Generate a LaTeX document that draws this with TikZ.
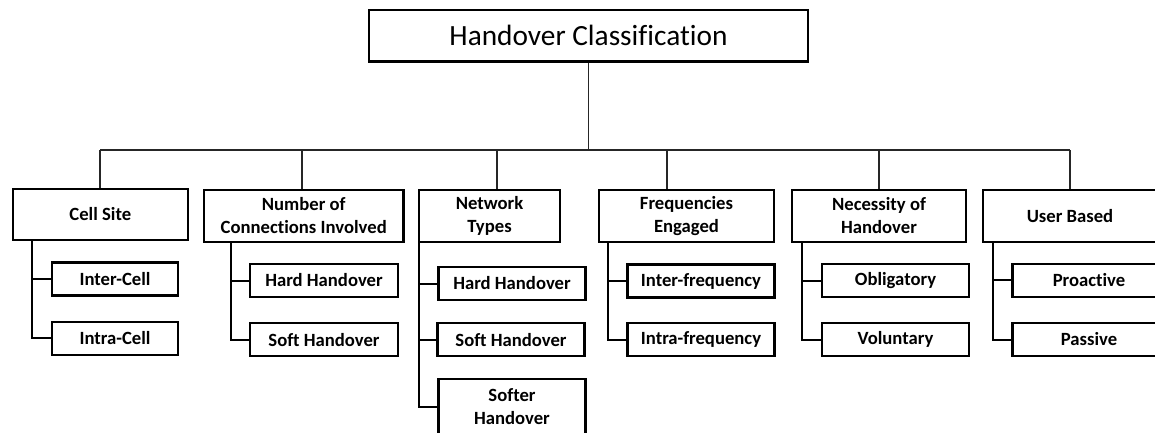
\documentclass[tikz,border=0pt]{standalone}
\usepackage{fontspec}
\setmainfont{Carlito}[Ligatures={NoCommon}]
\begin{document}
\begin{tikzpicture}[
  x=0.75pt, y=-0.75pt,
  rootbox/.style={draw=black, line width=1.65pt, inner sep=0pt, align=center,
    minimum width=439*0.75pt, minimum height=51.5*0.75pt,
    font=\fontsize{22}{26}\selectfont},
  catbox/.style={draw=black, line width=1.65pt, inner sep=0pt, align=center,
    minimum height=51.5*0.75pt,
    font=\fontsize{14}{17.25}\selectfont\bfseries},
  subbox/.style={draw=black, line width=1.65pt, inner sep=0pt, align=center,
    minimum height=33*0.75pt,
    font=\fontsize{14}{17.25}\selectfont\bfseries},
  busline/.style={draw=black!85, line width=0.9pt},
  trunk/.style={draw=black, line width=1.5pt}
]
\useasboundingbox (0,0) rectangle (1155,432);

% root
\node[rootbox] (root) at (588.5,35.75) {Handover Classification};

% categories
\node[catbox, minimum width=175*0.75pt]   (cell) at (100.3,214.5) {Cell Site};
\node[catbox, minimum width=199.5*0.75pt] (num)  at (303.7,216)   {Number of\\Connections Involved};
\node[catbox, minimum width=141*0.75pt]   (net)  at (489.5,216)   {Network\\Types};
\node[catbox, minimum width=175*0.75pt]   (freq) at (686.5,216)   {Frequencies\\Engaged};
\node[catbox, minimum width=174.5*0.75pt] (nec)  at (879,216)     {Necessity of\\Handover};
\node[catbox, minimum width=174*0.75pt]   (user) at (1070,216)    {User Based};

% bus and drops
\coordinate (stem) at (588.5,150);
\coordinate (bl) at (100,150);
\coordinate (br) at (1070,150);
\coordinate (d1) at (100,150);
\coordinate (d2) at (302,150);
\coordinate (d3) at (497,150);
\coordinate (d4) at (667,150);
\coordinate (d5) at (879,150);
\coordinate (d6) at (1070,150);
\draw[busline] (root.south) -- (stem);
\draw[busline] (bl) -- (br);
\draw[busline] (d1) -- (d1 |- cell.north);
\draw[busline] (d2) -- (d2 |- num.north);
\draw[busline] (d3) -- (d3 |- net.north);
\draw[busline] (d4) -- (d4 |- freq.north);
\draw[busline] (d5) -- (d5 |- nec.north);
\draw[busline] (d6) -- (d6 |- user.north);

% leaves
\node[subbox, minimum width=126*0.75pt] (c1) at (115,279)   {Inter-Cell};
\node[subbox, minimum width=126*0.75pt] (c2) at (115,338.2) {Intra-Cell};
\node[subbox, minimum width=148*0.75pt] (n1) at (324,280.5) {Hard Handover};
\node[subbox, minimum width=148*0.75pt] (n2) at (324,339.8) {Soft Handover};
\node[subbox, minimum width=147*0.75pt] (t1) at (512,283.5) {Hard Handover};
\node[subbox, minimum width=147*0.75pt] (t2) at (511,339.8) {Soft Handover};
\node[subbox, minimum width=147*0.75pt, minimum height=55*0.75pt] (t3) at (512,406.5) {Softer\\Handover};
\node[subbox, minimum width=147*0.75pt] (f1) at (701,281)   {Inter-frequency};
\node[subbox, minimum width=147*0.75pt] (f2) at (701,339.7) {Intra-frequency};
\node[subbox, minimum width=147*0.75pt] (o1) at (895.5,280.5) {Obligatory};
\node[subbox, minimum width=147*0.75pt] (o2) at (895.5,339.7) {Voluntary};
\node[subbox, minimum width=153*0.75pt] (u1) at (1089,280.3) {Proactive};
\node[subbox, minimum width=153*0.75pt] (u2) at (1089,339.5) {Passive};

% trunks to leaves
\coordinate (k1) at (32,241);
\coordinate (k2) at (231,242);
\coordinate (k3) at (419,242);
\coordinate (k4) at (608,242);
\coordinate (k5) at (802,242);
\coordinate (k6) at (993,242);
\draw[trunk] (k1) |- (c2.west);
\draw[trunk] (k1 |- c1.west) -- (c1.west);
\draw[trunk] (k2) |- (n2.west);
\draw[trunk] (k2 |- n1.west) -- (n1.west);
\draw[trunk] (k3) |- (t3.west);
\draw[trunk] (k3 |- t1.west) -- (t1.west);
\draw[trunk] (k3 |- t2.west) -- (t2.west);
\draw[trunk] (k4) |- (f2.west);
\draw[trunk] (k4 |- f1.west) -- (f1.west);
\draw[trunk] (k5) |- (o2.west);
\draw[trunk] (k5 |- o1.west) -- (o1.west);
\draw[trunk] (k6) |- (u2.west);
\draw[trunk] (k6 |- u1.west) -- (u1.west);
\end{tikzpicture}
\end{document}
